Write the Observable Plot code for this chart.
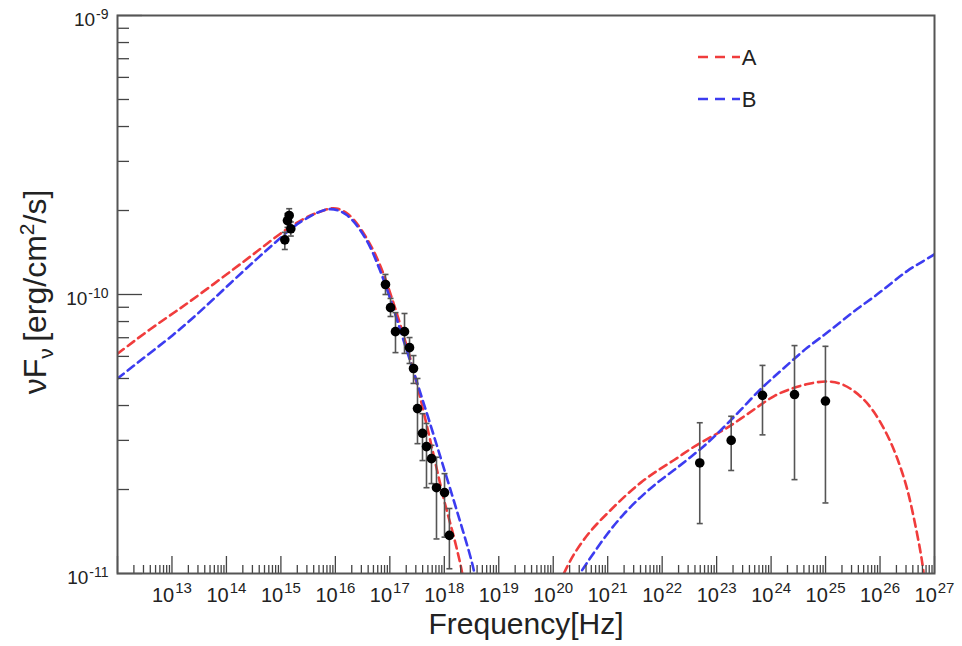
<!DOCTYPE html>
<html>
<head>
<meta charset="utf-8">
<script src="https://cdn.jsdelivr.net/npm/d3@7"></script>
<script src="https://cdn.jsdelivr.net/npm/@observablehq/plot@0.6"></script>
<style>
  html, body { margin: 0; padding: 0; background: #fff; }
  #chart svg { display: block; }
</style>
</head>
<body>
<div id="chart"></div>
<script>
// ---------------- data ----------------
// Model A (red dashed): synchrotron bump and inverse-Compton bump [nu (Hz), nuFnu (erg/cm2/s)]
const modelA_sync = [
  [1.00e12, 6.13e-11], [4.04e12, 7.55e-11], [1.27e13, 8.77e-11], [3.95e13, 1.03e-10],
  [1.41e14, 1.24e-10], [3.72e14, 1.43e-10], [9.84e14, 1.66e-10], [2.71e15, 1.89e-10],
  [7.16e15, 2.03e-10], [1.00e16, 2.05e-10], [1.70e16, 1.97e-10],
  [2.89e16, 1.74e-10], [5.08e16, 1.44e-10], [7.74e16, 1.19e-10], [1.18e17, 9.27e-11],
  [1.80e17, 7.13e-11], [2.75e17, 5.35e-11], [4.20e17, 3.78e-11], [6.41e17, 2.65e-11],
  [9.77e17, 1.83e-11], [1.40e18, 1.43e-11], [1.82e18, 1.16e-11], [2.16e18, 1.00e-11],
  [2.55e18, 8.0e-12]
];
const modelA_ic = [
  [1.25e20, 9.1e-12], [1.56e20, 1.00e-11], [2.38e20, 1.18e-11], [4.83e20, 1.43e-11],
  [9.77e20, 1.64e-11], [1.97e21, 1.88e-11], [4.00e21, 2.12e-11], [8.09e21, 2.34e-11],
  [1.63e22, 2.54e-11], [3.30e22, 2.80e-11], [6.70e22, 3.04e-11], [1.35e23, 3.26e-11],
  [2.74e23, 3.58e-11], [5.55e23, 3.94e-11], [1.12e24, 4.35e-11], [2.26e24, 4.59e-11],
  [4.59e24, 4.79e-11], [1.07e25, 4.92e-11], [2.16e25, 4.79e-11], [4.38e25, 4.35e-11],
  [7.67e25, 3.84e-11], [1.35e26, 3.17e-11], [2.07e26, 2.61e-11], [3.15e26, 2.04e-11],
  [4.17e26, 1.59e-11], [5.52e26, 1.21e-11], [6.35e26, 1.01e-11], [7.08e26, 8.0e-12]
];
// Model B (blue dashed)
const modelB_sync = [
  [1.00e12, 5.00e-11], [4.04e12, 6.19e-11], [1.27e13, 7.36e-11], [3.95e13, 8.97e-11],
  [1.19e14, 1.10e-10], [3.72e14, 1.35e-10], [8.65e14, 1.56e-10], [1.77e15, 1.77e-10],
  [4.13e15, 1.95e-10], [8.13e15, 2.06e-10], [1.65e16, 1.95e-10],
  [2.69e16, 1.74e-10], [4.42e16, 1.49e-10], [6.27e16, 1.25e-10], [8.32e16, 1.09e-10],
  [1.36e17, 8.1e-11], [2.57e17, 5.48e-11], [4.85e17, 3.73e-11], [8.51e17, 2.61e-11],
  [1.49e18, 1.83e-11], [2.28e18, 1.39e-11], [3.48e18, 1.05e-11], [4.07e18, 8.7e-12]
];
const modelB_ic = [
  [2.57e20, 9.4e-12], [3.07e20, 1.00e-11], [4.83e20, 1.14e-11], [9.77e20, 1.39e-11],
  [1.97e21, 1.64e-11], [4.00e21, 1.88e-11], [8.09e21, 2.12e-11], [1.63e22, 2.34e-11],
  [3.30e22, 2.61e-11], [6.70e22, 2.92e-11], [1.35e23, 3.34e-11], [2.74e23, 3.84e-11],
  [5.55e23, 4.47e-11], [1.12e24, 5.06e-11], [2.26e24, 5.72e-11], [4.59e24, 6.47e-11],
  [9.27e24, 7.13e-11], [1.87e25, 7.96e-11], [3.80e25, 8.89e-11], [7.67e25, 9.78e-11],
  [1.55e26, 1.09e-10], [3.15e26, 1.22e-10], [6.35e26, 1.32e-10], [1.04e27, 1.40e-10]
];

// Observed points (optical/UV, X-ray, gamma-ray)
const obsNu = [
  1.42e15, 1.32e15, 1.52e15, 1.18e15,
  8.32e16, 1.03e17, 1.27e17, 1.86e17, 2.30e17, 2.72e17, 3.22e17, 3.98e17, 4.71e17,
  5.82e17, 7.19e17, 1.01e18, 1.24e18,
  4.90e22, 1.85e23, 6.95e23, 2.69e24, 9.95e24
];
const obsFlux = [
  1.92e-10, 1.84e-10, 1.72e-10, 1.57e-10,
  1.086e-10, 8.97e-11, 7.36e-11, 7.36e-11, 6.45e-11, 5.43e-11, 3.90e-11, 3.18e-11, 2.85e-11,
  2.58e-11, 2.03e-11, 1.95e-11, 1.37e-11,
  2.49e-11, 3.00e-11, 4.35e-11, 4.38e-11, 4.15e-11
];
const obsLo = [
  1.81e-10, 1.74e-10, 1.62e-10, 1.45e-10,
  1.00e-10, 8.34e-11, 6.19e-11, 6.15e-11, 5.66e-11, 4.80e-11, 2.92e-11, 2.54e-11, 2.03e-11,
  2.10e-11, 1.33e-11, 1.35e-11, 1.04e-11,
  1.51e-11, 2.34e-11, 3.14e-11, 2.17e-11, 1.79e-11
];
const obsHi = [
  2.03e-10, 1.95e-10, 1.82e-10, 1.67e-10,
  1.18e-10, 9.68e-11, 8.61e-11, 8.55e-11, 7.01e-11, 6.04e-11, 5.00e-11, 3.74e-11, 3.45e-11,
  2.88e-11, 2.61e-11, 2.28e-11, 1.71e-11,
  3.47e-11, 3.66e-11, 5.57e-11, 6.56e-11, 6.52e-11
];

// axis ticks (decade exponents)
const xTickExps = [13, 14, 15, 16, 17, 18, 19, 20, 21, 22, 23, 24, 25, 26, 27];
const yTickExps = [-9, -10, -11];
const legendLabels = ["A", "B"];
const xTitle = "Frequency[Hz]";

// ---------------- layout ----------------
const W = 962, H = 646;
const ML = 117, MR = 28, MT = 15, MB = 73;
const FW = W - ML - MR, FH = H - MT - MB;
const RED = "#f03c3c", BLUE = "#3c3cf0";
const DASH = "8,5";
const AXC = "#444";

const obs = obsNu.map((nu, i) => ({nu, flux: obsFlux[i], lo: obsLo[i], hi: obsHi[i]}));

const xMajor = [1e12, ...xTickExps.map(e => 10 ** e)];
const xMinor = [];
for (let e = 12; e < 27; e++) for (let k = 2; k <= 9; k++) xMinor.push(k * 10 ** e);
const yMajor = yTickExps.map(e => 10 ** e);
const yMinor = [];
for (const e of [-11, -10]) for (let k = 2; k <= 9; k++) yMinor.push(k * 10 ** e);

const capSymbol = {
  draw(ctx, size) {
    const r = Math.sqrt(size / Math.PI);
    ctx.moveTo(-r, 0); ctx.lineTo(r, 0);
  }
};

const curveOpts = (color) => ({
  x: d => d[0], y: d => d[1], stroke: color, strokeWidth: 2.6,
  strokeDasharray: DASH, curve: "basis", clip: true
});

const plot = Plot.plot({
  width: W, height: H,
  marginLeft: ML, marginRight: MR, marginTop: MT, marginBottom: MB,
  style: {fontFamily: "'Liberation Sans', Arial, Helvetica, sans-serif", background: "#fff", color: "#222"},
  x: {type: "log", domain: [1e12, 1e27], axis: null},
  y: {type: "log", domain: [1e-11, 1e-9], axis: null},
  marks: [
    // models
    Plot.line(modelA_sync, curveOpts(RED)),
    Plot.line(modelA_ic, curveOpts(RED)),
    Plot.line(modelB_sync, curveOpts(BLUE)),
    Plot.line(modelB_ic, curveOpts(BLUE)),
    // error bars
    Plot.ruleX(obs, {x: "nu", y1: "lo", y2: "hi", stroke: "#555", strokeWidth: 1.6}),
    Plot.dot(obs, {x: "nu", y: "lo", symbol: capSymbol, r: 3, stroke: "#555", strokeWidth: 1.6, fill: "none"}),
    Plot.dot(obs, {x: "nu", y: "hi", symbol: capSymbol, r: 3, stroke: "#555", strokeWidth: 1.6, fill: "none"}),
    // points
    Plot.dot(obs, {x: "nu", y: "flux", r: 4.8, fill: "#000", stroke: "none"}),
    // inward ticks
    Plot.ruleX(xMinor, {x: d => d, insetTop: FH - 8, stroke: AXC, strokeWidth: 1.3}),
    Plot.ruleX(xMajor, {x: d => d, insetTop: FH - 17, stroke: AXC, strokeWidth: 1.3}),
    Plot.ruleY(yMinor, {y: d => d, insetRight: FW - 12, stroke: AXC, strokeWidth: 1.3}),
    Plot.ruleY(yMajor, {y: d => d, insetRight: FW - 25, stroke: AXC, strokeWidth: 1.3}),
    // tick labels
    Plot.text(xTickExps, {
      x: e => 10 ** e, text: e => "10^" + e, frameAnchor: "bottom", dy: 22,
      lineAnchor: "middle", textAnchor: "middle", fontSize: 20, fill: "#222"
    }),
    Plot.text(yTickExps, {
      y: e => 10 ** e, text: e => "10^" + e, frameAnchor: "left", dx: -9, dy: 4,
      lineAnchor: "middle", textAnchor: "end", fontSize: 19, fill: "#222"
    }),
    Plot.frame({stroke: "#555", strokeWidth: 2})
  ]
});

document.getElementById("chart").appendChild(plot);

// superscripts on tick labels
const NS = "http://www.w3.org/2000/svg";
plot.querySelectorAll("text").forEach(t => {
  const s = t.textContent;
  const m = /^(10)\^(-?\d+)$/.exec(s);
  if (!m) return;
  const neg = m[2].startsWith("-");
  while (t.firstChild) t.removeChild(t.firstChild);
  t.appendChild(document.createTextNode(m[1]));
  const ts = document.createElementNS(NS, "tspan");
  ts.setAttribute("dy", neg ? -7 : -9);
  ts.setAttribute("dx", 1);
  ts.setAttribute("font-size", neg ? 14 : 15);
  ts.textContent = m[2];
  t.appendChild(ts);
});

// titles
const svg = d3.select(plot);
svg.append("text")
  .attr("x", 526).attr("y", 634)
  .attr("text-anchor", "middle").attr("font-size", 30).attr("fill", "#222")
  .text(xTitle);

const yt = svg.append("text")
  .attr("transform", "translate(46,292) rotate(-90)")
  .attr("text-anchor", "middle").attr("font-size", 32).attr("fill", "#222");
yt.append("tspan").text("\u03BDF");
yt.append("tspan").attr("font-size", 21).attr("dy", 7).text("\u03BD");
yt.append("tspan").attr("dy", -7).text("\u2009[erg/cm");
yt.append("tspan").attr("font-size", 21).attr("dy", -12).text("2");
yt.append("tspan").attr("dy", 12).text("/s]");

// legend
const legendColors = [RED, BLUE];
const lg = svg.append("g");
legendLabels.forEach((lab, i) => {
  const y = 57 + i * 42;
  lg.append("line").attr("x1", 698).attr("x2", 740).attr("y1", y).attr("y2", y)
    .attr("stroke", legendColors[i]).attr("stroke-width", 2.6).attr("stroke-dasharray", "10,7");
  lg.append("text").attr("x", 749).attr("y", y + 8)
    .attr("font-size", 22).attr("fill", "#222").text(lab);
});
</script>
</body>
</html>
